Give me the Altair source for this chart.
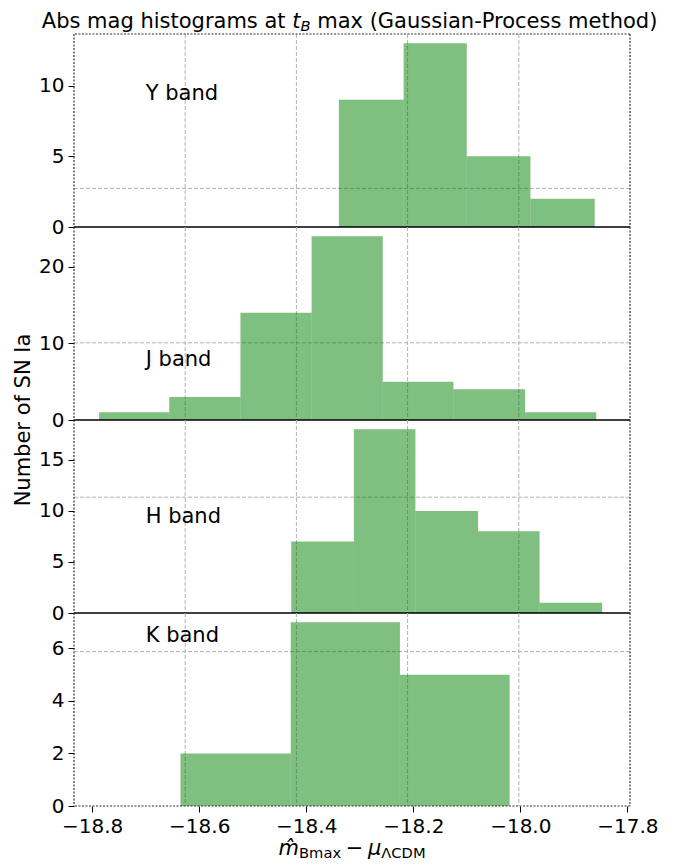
import altair as alt
import pandas as pd

# ---------------- data ----------------
bands = ["Y band", "J band", "H band", "K band"]

y_edges = [-18.339, -18.218, -18.100, -17.981, -17.861]
y_counts = [9, 13, 5, 2]

j_edges = [-18.787, -18.656, -18.523, -18.390, -18.257, -18.125, -17.991, -17.858]
j_counts = [1, 3, 14, 24, 5, 4, 1]

h_edges = [-18.428, -18.311, -18.196, -18.079, -17.964, -17.847]
h_counts = [7, 18, 10, 8, 1]

k_edges = [-18.635, -18.429, -18.225, -18.020]
k_counts = [2, 7, 5]

x_ticks = [-18.8, -18.6, -18.4, -18.2, -18.0, -17.8]
y_ticks = [[0, 5, 10], [0, 10, 20], [0, 5, 10, 15], [0, 2, 4, 6]]

label_x = -18.70
label_y = [9.0, 7.0, 8.8, 6.25]

grid_fracs = [0.2, 0.4, 0.6, 0.8]   # background-axes grid (figure fractions)
frame_fracs = [0.0, 1.0]
x_domain = [-18.834, -17.795]

# ---------------- style ----------------
W, H = 556, 193
FONT = "DejaVu Sans"
GREEN = "#008000"
GRID = "#b0b0b0"
FRAME = "#333333"
FS = 21
SUB = 14.7

edges_all = [y_edges, j_edges, h_edges, k_edges]
counts_all = [y_counts, j_counts, h_counts, k_counts]
NP = len(bands)


def txt(s, x, y, size=FS, align="left", style="normal", angle=0):
    return alt.Chart(pd.DataFrame({"t": [s]})).mark_text(
        font=FONT, fontSize=size, align=align, baseline="alphabetic",
        fontStyle=style, color="black", angle=angle
    ).encode(x=alt.value(x), y=alt.value(y), text="t:N")


def panel(i):
    edges, counts = edges_all[i], counts_all[i]
    lo, hi = 1 - (i + 1) / NP, 1 - i / NP
    df = pd.DataFrame({"x0": edges[:-1], "x1": edges[1:], "n": counts})
    df["base"] = 0
    ytop = max(counts) * 1.05
    xs = alt.Scale(domain=x_domain, nice=False, zero=False)
    ys = alt.Scale(domain=[0, ytop], nice=False)
    fx = alt.Scale(domain=[0, 1], nice=False, zero=False)
    fy = alt.Scale(domain=[lo, hi], nice=False, zero=False)

    layers = []
    layers.append(
        alt.Chart(pd.DataFrame({"f": grid_fracs})).mark_rule(
            color=GRID, strokeDash=[4, 2], strokeWidth=1
        ).encode(x=alt.X("f:Q", scale=fx, axis=None))
    )
    hg = [f for f in grid_fracs if lo < f < hi]
    if hg:
        layers.append(
            alt.Chart(pd.DataFrame({"f": hg})).mark_rule(
                color=GRID, strokeDash=[4, 2], strokeWidth=1
            ).encode(y=alt.Y("f:Q", scale=fy, axis=None))
        )

    if i == NP - 1:
        xaxis = alt.Axis(values=x_ticks, format=".1f", labelFontSize=20, labelFont=FONT,
                         labelColor="black", tickColor="black", tickSize=6, tickWidth=1,
                         labelPadding=4, domain=False, grid=False, title=None)
    else:
        xaxis = None
    yaxis = alt.Axis(values=y_ticks[i], labelFontSize=20, labelFont=FONT, labelColor="black",
                     tickColor="black", tickSize=6, tickWidth=1, labelPadding=4,
                     domain=False, grid=False, title=None)

    layers.append(
        alt.Chart(df).mark_rect(color=GREEN, opacity=0.5).encode(
            x=alt.X("x0:Q", scale=xs, axis=xaxis),
            x2="x1:Q",
            y=alt.Y("n:Q", scale=ys, axis=yaxis),
            y2="base:Q",
        )
    )

    # outer frame (dashed)
    layers.append(
        alt.Chart(pd.DataFrame({"f": frame_fracs})).mark_rule(
            color=FRAME, strokeDash=[2, 1.5], strokeWidth=1.2
        ).encode(x=alt.X("f:Q", scale=fx, axis=None))
    )
    edge_f = [f for f in frame_fracs if lo <= f <= hi]
    if edge_f:
        layers.append(
            alt.Chart(pd.DataFrame({"f": edge_f})).mark_rule(
                color=FRAME, strokeDash=[2, 1.5], strokeWidth=1.2
            ).encode(y=alt.Y("f:Q", scale=fy, axis=None))
        )
    # solid zero line between panels
    if i < NP - 1:
        layers.append(
            alt.Chart(pd.DataFrame({"z": [0]})).mark_rule(color="black", strokeWidth=1.4).encode(
                y=alt.Y("z:Q", scale=ys, axis=None)
            )
        )

    # band label
    layers.append(
        alt.Chart(pd.DataFrame({"x": [label_x], "y": [label_y[i]], "t": [bands[i]]})).mark_text(
            font=FONT, fontSize=FS, align="left", baseline="alphabetic", color="black"
        ).encode(
            x=alt.X("x:Q", scale=xs, axis=None),
            y=alt.Y("y:Q", scale=ys, axis=None),
            text="t:N",
        )
    )

    if i == 0:  # figure title with t_B
        ty = -6
        layers += [
            txt("Abs mag histograms at", 211.6, ty, align="right"),
            txt("t", 218.2, ty, style="italic"),
            txt("B", 226.4, ty + 3, size=SUB, style="italic"),
            txt("max (Gaussian-Process method)", 243.2, ty),
        ]
    if i == 1:  # y title centered between J and H panels
        layers.append(txt("Number of SN Ia", -44, H, align="center", angle=270))
    if i == NP - 1:  # x title  m̂_Bmax − μ_ΛCDM
        by = H + 49
        layers += [
            txt("m\u0302", 204.5, by, style="italic"),
            txt("Bmax", 225.0, by + 3, size=SUB),
            txt("\u2212", 280.5, by, align="center"),
            txt("\u03bc", 293.9, by, style="italic"),
            txt("\u039bCDM", 307.3, by + 3, size=SUB),
        ]

    return alt.layer(*layers).resolve_scale(x="independent", y="independent").properties(
        width=W, height=H
    )


chart = alt.vconcat(*[panel(i) for i in range(NP)], spacing=0, bounds="flush").properties(
    padding={"left": 5, "top": 3, "right": 5, "bottom": 5}
).configure_view(stroke=None)

chart.save("out.html", embed_options={"renderer": "svg", "actions": False})
